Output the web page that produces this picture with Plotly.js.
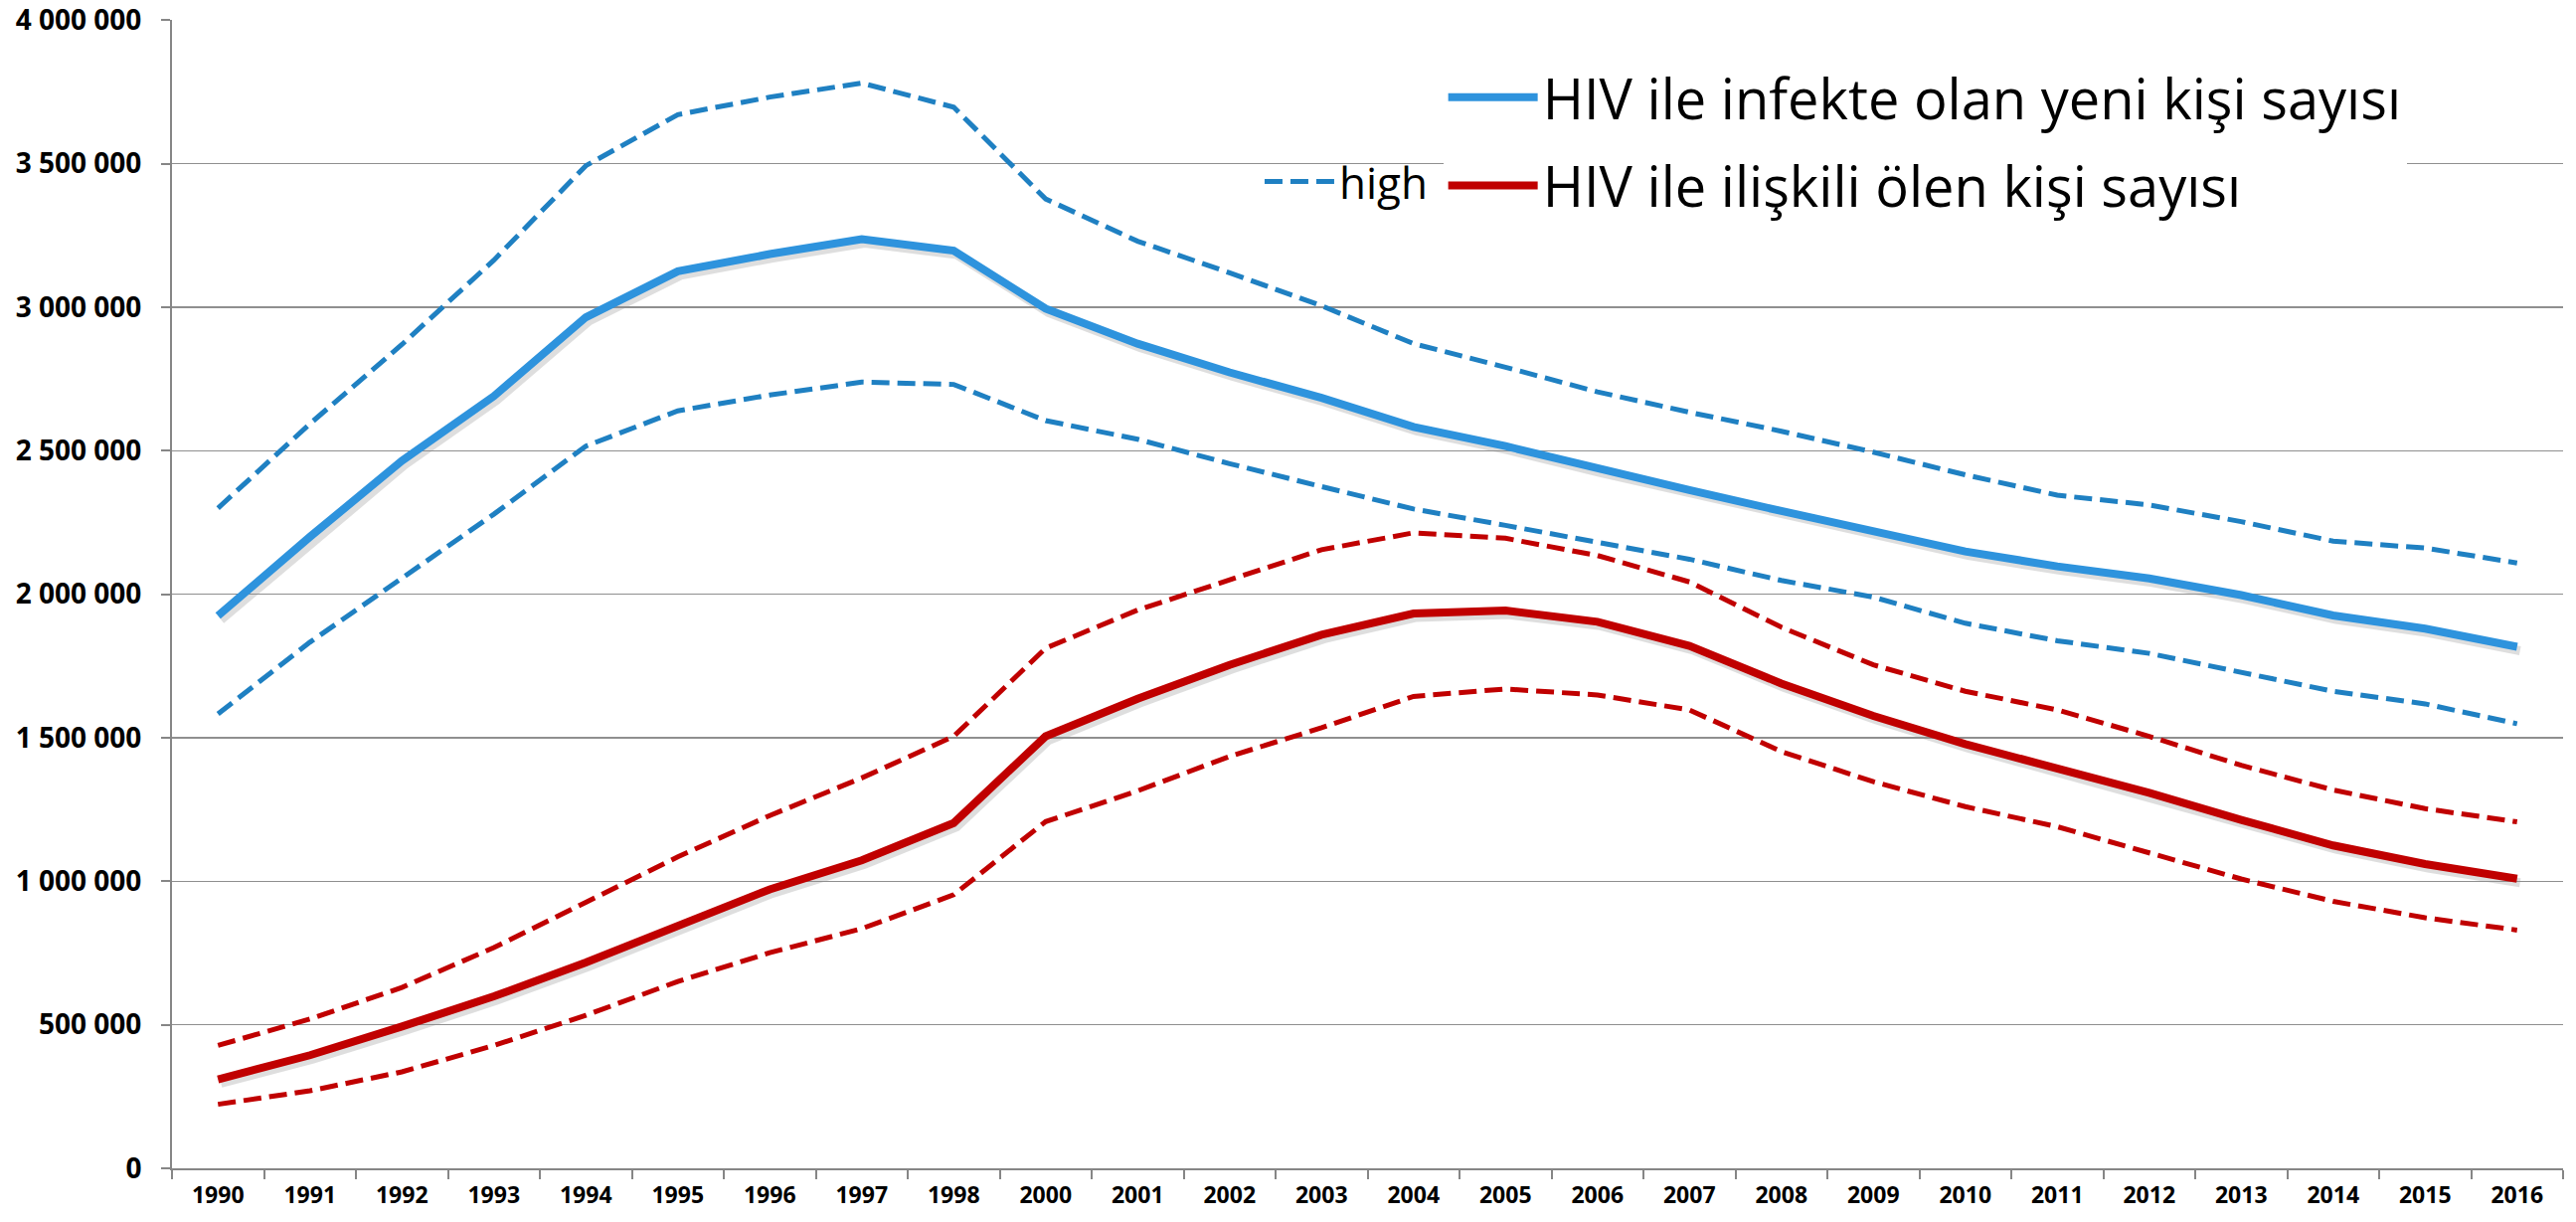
<!DOCTYPE html>
<html>
<head>
<meta charset="utf-8">
<script src="https://cdn.plot.ly/plotly-3.0.1.min.js"></script>
<style>
  html, body { margin: 0; padding: 0; background: #fff; }
  #chart { width: 2591px; height: 1229px; }
</style>
</head>
<body>
<div id="chart"></div>
<script>
// ---- Data ----
const years = ['1990','1991','1992','1993','1994','1995','1996','1997','1998','2000',
  '2001','2002','2003','2004','2005','2006','2007','2008','2009','2010',
  '2011','2012','2013','2014','2015','2016'];

const infectedCentral = [1925000, 2200000, 2465000, 2690000, 2965000, 3125000, 3185000, 3237000, 3197000, 2995000,
  2873000, 2773000, 2684000, 2583000, 2516000, 2437000, 2363000, 2290000, 2220000, 2149000,
  2097000, 2055000, 1997000, 1926000, 1880000, 1817000];
const infectedHigh = [2300000, 2594000, 2870000, 3164000, 3493000, 3671000, 3732000, 3781000, 3697000, 3377000,
  3230000, 3120000, 3005000, 2873000, 2791000, 2705000, 2634000, 2568000, 2495000, 2416000,
  2345000, 2311000, 2253000, 2185000, 2161000, 2109000];
const infectedLow = [1583000, 1833000, 2056000, 2279000, 2516000, 2639000, 2694000, 2739000, 2731000, 2605000,
  2540000, 2455000, 2375000, 2297000, 2240000, 2180000, 2122000, 2048000, 1990000, 1899000,
  1838000, 1794000, 1728000, 1662000, 1618000, 1549000];

const deathsCentral = [310000, 394000, 494000, 599000, 717000, 848000, 972000, 1073000, 1203000, 1505000,
  1636000, 1754000, 1859000, 1933000, 1943000, 1904000, 1820000, 1689000, 1576000, 1478000,
  1392000, 1308000, 1214000, 1125000, 1060000, 1009000];
const deathsHigh = [428000, 520000, 630000, 769000, 927000, 1085000, 1229000, 1360000, 1505000, 1812000,
  1945000, 2050000, 2155000, 2214000, 2195000, 2135000, 2043000, 1885000, 1754000, 1662000,
  1597000, 1505000, 1404000, 1318000, 1253000, 1207000];
const deathsLow = [223000, 270000, 336000, 428000, 533000, 651000, 751000, 835000, 953000, 1208000,
  1315000, 1435000, 1535000, 1644000, 1670000, 1649000, 1597000, 1452000, 1347000, 1260000,
  1190000, 1098000, 1008000, 930000, 873000, 830000];

const yTickVals = [0, 500000, 1000000, 1500000, 2000000, 2500000, 3000000, 3500000, 4000000];
const seriesNames = ['HIV ile infekte olan yeni kişi sayısı', 'HIV ile ilişkili ölen kişi sayısı', 'high'];

// ---- Styling ----
const BLUE = '#2E93DD';
const BLUE_DASH = '#1F80C2';
const RED = '#C00000';
const AXIS = '#868686';
const GRID = '#8f8f8f';

const W = 2591, H = 1229;
const mL = 173, mR = 10, mT = 20, mB = 50;
const plotW = W - mL - mR, plotH = H - mT - mB;
const dx = 3 / plotW, dy = 4 / plotH;   // shadow offset

const dash = '18px,8px';

const traces = [
  // soft shadows (drawn first, on the offset subplot)
  { x: years, y: infectedCentral, xaxis: 'x', yaxis: 'y', mode: 'lines', hoverinfo: 'skip',
    line: { color: 'rgba(0,0,0,0.13)', width: 9 }, showlegend: false },
  { x: years, y: deathsCentral, xaxis: 'x', yaxis: 'y', mode: 'lines', hoverinfo: 'skip',
    line: { color: 'rgba(0,0,0,0.13)', width: 9 }, showlegend: false },

  // dashed uncertainty bounds
  { x: years, y: infectedHigh, xaxis: 'x2', yaxis: 'y2', mode: 'lines', name: seriesNames[2],
    line: { color: BLUE_DASH, width: 5, dash: dash }, legend: 'legend2', showlegend: true },
  { x: years, y: infectedLow, xaxis: 'x2', yaxis: 'y2', mode: 'lines', name: 'low',
    line: { color: BLUE_DASH, width: 5, dash: dash }, showlegend: false },
  { x: years, y: deathsHigh, xaxis: 'x2', yaxis: 'y2', mode: 'lines', name: 'high',
    line: { color: RED, width: 5, dash: dash }, showlegend: false },
  { x: years, y: deathsLow, xaxis: 'x2', yaxis: 'y2', mode: 'lines', name: 'low',
    line: { color: RED, width: 5, dash: dash }, showlegend: false },

  // central estimates
  { x: years, y: infectedCentral, xaxis: 'x2', yaxis: 'y2', mode: 'lines', name: seriesNames[0],
    line: { color: BLUE, width: 8 }, legend: 'legend', legendgroup: 'a' },
  { x: years, y: deathsCentral, xaxis: 'x2', yaxis: 'y2', mode: 'lines', name: seriesNames[1],
    line: { color: RED, width: 8 }, legend: 'legend', legendgroup: 'b' }
];

const tickFontY = { family: 'Open Sans, Noto Sans, sans-serif', size: 28, color: '#000', weight: 'bold' };
const tickFontX = { family: 'Open Sans, Noto Sans, sans-serif', size: 23, color: '#000', weight: 'bold' };

const layout = {
  width: W, height: H,
  margin: { l: mL, r: mR, t: mT, b: mB, pad: 0 },
  paper_bgcolor: '#fff', plot_bgcolor: 'rgba(0,0,0,0)',
  separators: ', ',
  font: { family: 'Open Sans, Noto Sans, sans-serif', color: '#000' },
  // shadow subplot (invisible axes, offset by a few pixels)
  xaxis: { domain: [dx, 1], anchor: 'y', visible: false, type: 'category',
           categoryorder: 'array', categoryarray: years, range: [-0.5, years.length - 0.5] },
  yaxis: { domain: [0, 1 - dy], anchor: 'x', visible: false, range: [0, 4001000] },
  // main subplot
  xaxis2: { domain: [0, 1 - dx], anchor: 'y2', type: 'category',
            categoryorder: 'array', categoryarray: years, range: [-0.5, years.length - 0.5],
            tickson: 'boundaries', ticks: 'outside', ticklen: 9, tickwidth: 2, tickcolor: AXIS,
            showline: true, linecolor: AXIS, linewidth: 2, showgrid: false,
            tickfont: tickFontX, ticklabelstandoff: 5, fixedrange: true },
  yaxis2: { domain: [dy, 1], anchor: 'x2', range: [0, 4001000],
            tickmode: 'array', tickvals: yTickVals,
            tickformat: ',d', ticks: 'outside', ticklen: 9, tickwidth: 2, tickcolor: AXIS,
            showline: true, linecolor: AXIS, linewidth: 2,
            showgrid: true, gridcolor: GRID, gridwidth: 1.5, zeroline: false,
            tickfont: tickFontY, ticklabelstandoff: 14, fixedrange: true },
  legend: { x: 0.531, xanchor: 'left', y: 0.970, yanchor: 'top', itemwidth: 90,
            bgcolor: '#fff', borderwidth: 0, tracegroupgap: 13,
            font: { family: 'Open Sans, Noto Sans, sans-serif', size: 56, color: '#000' } },
  legend2: { x: 0.4543, xanchor: 'left', y: 0.890, yanchor: 'top', itemwidth: 70,
             bgcolor: 'rgba(0,0,0,0)', borderwidth: 0,
             font: { family: 'Open Sans, Noto Sans, sans-serif', size: 44, color: '#000' } },
  showlegend: true
};

Plotly.newPlot('chart', traces, layout, { displayModeBar: false, staticPlot: true });
</script>
</body>
</html>
